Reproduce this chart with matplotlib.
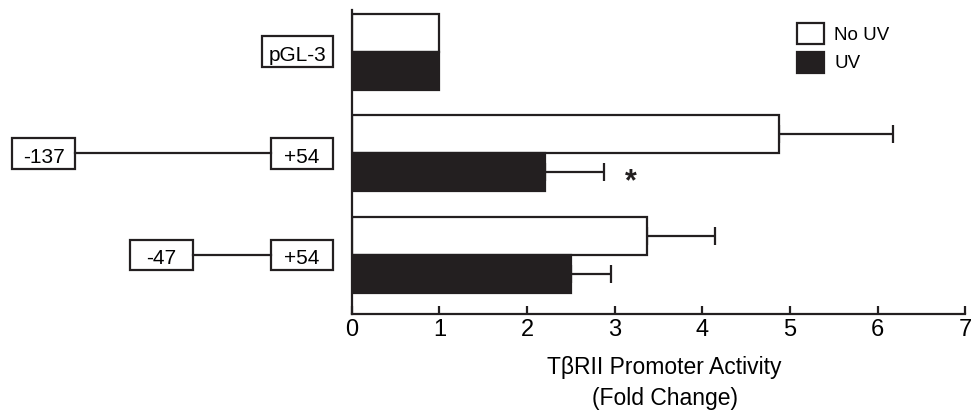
import matplotlib.pyplot as plt
import numpy as np
from matplotlib.patches import Patch, Rectangle
from matplotlib.transforms import blended_transform_factory

plt.rcParams['font.family'] = ['Liberation Sans', 'DejaVu Sans']

# constructs (top to bottom)
constructs = ['pGL-3', '-137/+54', '-47/+54']
start_labels = ['', '-137', '-47']
end_labels = ['pGL-3', '+54', '+54']

# fold change values
no_uv = [1.0, 4.88, 3.37]
no_uv_err = [0.0, 1.29, 0.77]
uv = [1.0, 2.20, 2.50]
uv_err = [0.0, 0.68, 0.46]
significant = [False, True, False]

ink = '#231f20'

fig = plt.figure(figsize=(9.77, 4.12), dpi=100)
ax = fig.add_axes([0.360, 0.238, 0.628, 0.738])

y = np.arange(len(constructs))
h = 0.374
ax.barh(y - h / 2, no_uv, height=h, color='white', edgecolor=ink, linewidth=1.6, zorder=2)
ax.barh(y + h / 2, uv, height=h, color=ink, edgecolor=ink, linewidth=1.6, zorder=2)

for yy, v, e in zip(y - h / 2, no_uv, no_uv_err):
    if e > 0:
        ax.errorbar(v, yy, xerr=[[0], [e]], fmt='none', ecolor=ink, elinewidth=1.6,
                    capsize=6.5, capthick=1.6, zorder=1)
for yy, v, e in zip(y + h / 2, uv, uv_err):
    if e > 0:
        ax.errorbar(v, yy, xerr=[[0], [e]], fmt='none', ecolor=ink, elinewidth=1.6,
                    capsize=6.5, capthick=1.6, zorder=1)

for yy, v, e, s in zip(y + h / 2, uv, uv_err, significant):
    if s:
        ax.text(v + e + 0.3, yy + 0.1, '*', fontsize=22, fontweight='bold',
                ha='center', va='center', color=ink)

ax.set_xlim(0, 7)
ax.set_ylim(2.58, -0.41)
ax.set_xticks(range(8))
ax.set_yticks([])
ax.tick_params(axis='x', direction='in', length=6, width=1.6, color=ink,
               labelsize=17, pad=4, labelcolor='black')
for side in ['top', 'right']:
    ax.spines[side].set_visible(False)
for side in ['left', 'bottom']:
    ax.spines[side].set_linewidth(1.6)
    ax.spines[side].set_color(ink)

ax.set_xlabel('T\u03b2RII Promoter Activity\n(Fold Change)', fontsize=16.5,
              linespacing=1.45)
ax.xaxis.set_label_coords(0.51, -0.138)

# promoter construct diagrams left of the axis (x in figure pixels / 977)
tr = blended_transform_factory(fig.transFigure, ax.transData)
W = 977.0
bh = 0.30
for yy, s, e in zip(y, start_labels, end_labels):
    if s == '':
        x0, x1 = 262, 333
        ax.add_patch(Rectangle((x0 / W, yy - bh / 2), (x1 - x0) / W, bh, transform=tr,
                               facecolor='white', edgecolor=ink, lw=1.6, clip_on=False))
        ax.text((x0 + x1) / 2 / W, yy + 0.02, e, transform=tr, ha='center',
                va='center_baseline', fontsize=15)
        continue
    lx0 = 12 if s == '-137' else 130
    lx1 = lx0 + 63
    rx0, rx1 = 271, 333
    ax.plot([lx1 / W, rx0 / W], [yy, yy], transform=tr, color=ink, lw=1.6, clip_on=False)
    for a, b, t in [(lx0, lx1, s), (rx0, rx1, e)]:
        ax.add_patch(Rectangle((a / W, yy - bh / 2), (b - a) / W, bh, transform=tr,
                               facecolor='white', edgecolor=ink, lw=1.6, clip_on=False))
        ax.text((a + b) / 2 / W, yy + 0.02, t, transform=tr, ha='center',
                va='center_baseline', fontsize=15)

handles = [Patch(facecolor='white', edgecolor=ink, lw=1.6, label='No UV'),
           Patch(facecolor=ink, edgecolor=ink, lw=1.6, label='UV')]
fig.legend(handles=handles, loc='upper left', bbox_to_anchor=(0.808, 0.962),
           frameon=False, fontsize=13.5, handlelength=1.45, handleheight=1.35,
           handletextpad=0.55, labelspacing=0.4, borderaxespad=0)

fig.savefig('out.png', dpi=100)
